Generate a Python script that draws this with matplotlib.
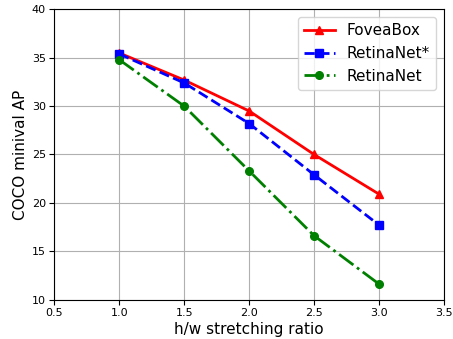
import matplotlib
matplotlib.use("Agg")
import matplotlib.pyplot as plt

ratios = [1.0, 1.5, 2.0, 2.5, 3.0]
foveabox = [35.5, 32.7, 29.5, 25.0, 20.9]
retinanet_star = [35.4, 32.4, 28.2, 22.9, 17.7]
retinanet = [34.8, 30.0, 23.3, 16.6, 11.6]

fig = plt.figure(figsize=(4.53, 3.39), dpi=100)
ax = fig.add_axes([0.120, 0.1165, 0.860, 0.8555])
ax.plot(ratios, foveabox, color='red', linestyle='-', marker='^', markersize=5.5, linewidth=2, label='FoveaBox')
ax.plot(ratios, retinanet_star, color='blue', linestyle='--', marker='s', markersize=5.5, linewidth=2, label='RetinaNet*')
ax.plot(ratios, retinanet, color='green', linestyle='-.', marker='o', markersize=5.5, linewidth=2, label='RetinaNet')
ax.set_xlim(0.5, 3.5)
ax.set_ylim(10, 40)
ax.set_xticks([0.5, 1.0, 1.5, 2.0, 2.5, 3.0, 3.5])
ax.set_yticks([10, 15, 20, 25, 30, 35, 40])
ax.tick_params(labelsize=8, pad=2.5)
ax.grid(True, color='#b0b0b0', linewidth=0.8)
ax.set_xlabel('h/w stretching ratio', fontsize=11, labelpad=3)
ax.set_ylabel('COCO minival AP', fontsize=11, labelpad=3)
ax.legend(loc='upper right', fontsize=11)
fig.savefig('out.png', dpi=100)
